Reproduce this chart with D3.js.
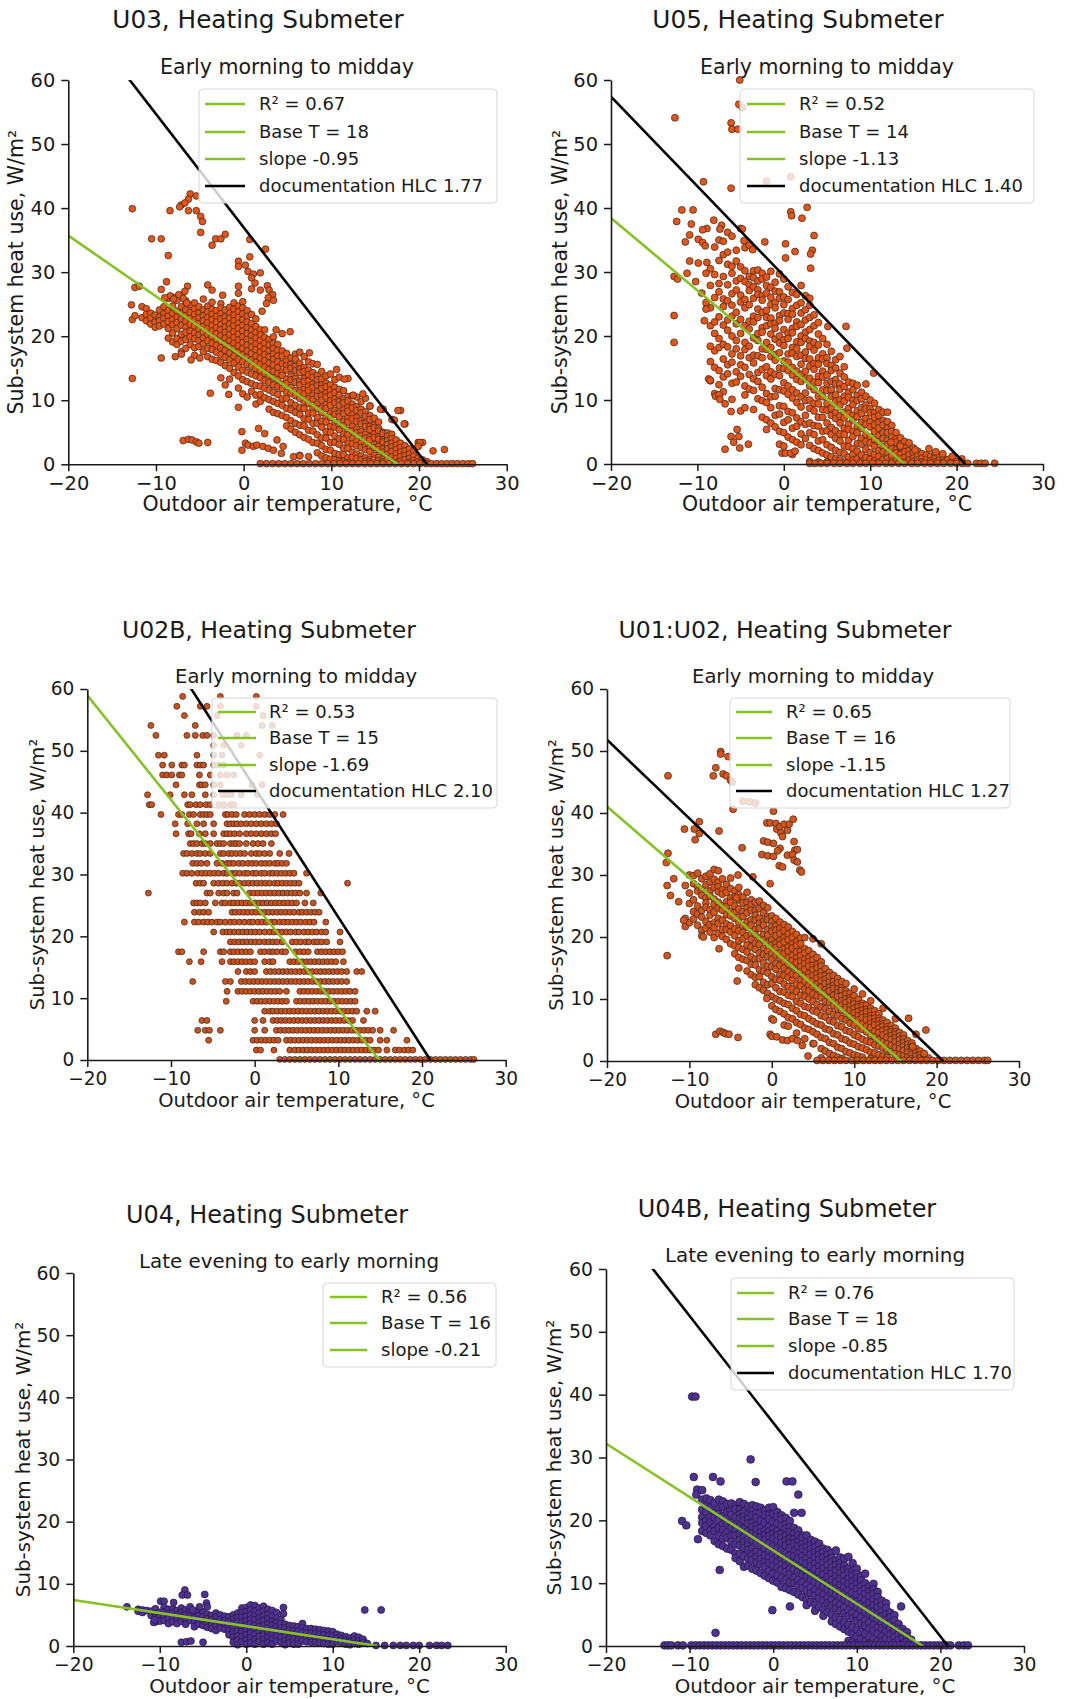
<!DOCTYPE html>
<html><head><meta charset="utf-8">
<script src="https://cdn.jsdelivr.net/npm/d3@7"></script>
<style>body{margin:0;background:#fff}svg{display:block}text{font-family:"DejaVu Sans",sans-serif;fill:#1a1a1a}</style>
</head><body><svg id="c" width="1075" height="1699"></svg>
<script>
// ---------------- DATA ----------------
const xTicks=[-20,-10,0,10,20,30];
const yTicks=[0,10,20,30,40,50,60];
const titles=['U03, Heating Submeter','U05, Heating Submeter','U02B, Heating Submeter','U01:U02, Heating Submeter','U04, Heating Submeter','U04B, Heating Submeter'];
const subtitles=['Early morning to midday','Early morning to midday','Early morning to midday','Early morning to midday','Late evening to early morning','Late evening to early morning'];
const legendLabels=[
 ['R² = 0.67','Base T = 18','slope -0.95','documentation HLC 1.77'],
 ['R² = 0.52','Base T = 14','slope -1.13','documentation HLC 1.40'],
 ['R² = 0.53','Base T = 15','slope -1.69','documentation HLC 2.10'],
 ['R² = 0.65','Base T = 16','slope -1.15','documentation HLC 1.27'],
 ['R² = 0.56','Base T = 16','slope -0.21'],
 ['R² = 0.76','Base T = 18','slope -0.85','documentation HLC 1.70']];
const fitSlope=[-0.95,-1.13,-1.69,-1.15,-0.21,-0.85];
const fitZeroT=[17.6,14.0,14.9,15.7,15.2,17.9];
const docHLC=[1.77,1.40,2.10,1.27,null,1.70];
const docZeroT=[20.9,21.0,21.0,20.8,null,20.9];
const xLabel='Outdoor air temperature, °C';
const yLabel='Sub-system heat use, W/m²';

// columns: [x, y1, y2, ...]   rows: [y, x1, x2, ...]
const u03Cols=[[-11.6,24.6,22.9],[-11.1,24.3,23.4,22.4],[-10.6,23.6,22.8,21.9],[-10.1,23.3,22.2,21.4],[-9.6,24.1,23.0,22.4,21.6],[-9.1,24.6,23.5,22.8,21.9],[-8.6,25.9,24.0,23.1,22.3,21.2,19.7],[-8.1,26.1,24.7,23.6,22.6,21.8,20.5,19.1],[-7.6,25.6,23.9,23.0,22.1,21.2,19.6,18.7],[-7.1,26.4,24.6,23.5,22.7,21.7,20.3,19.2,17.6],[-6.6,25.5,24.1,23.2,22.3,21.4,20.6,19.5,18.1],[-6.1,24.9,23.7,22.8,21.9,20.8,19.9,18.7],[-5.6,25.2,24.3,23.4,22.5,21.6,20.5,19.6,18.2,17.0],[-5.1,24.6,23.6,22.9,22.0,21.1,20.2,19.3,18.4],[-4.6,25.8,24.1,23.2,22.4,21.5,20.6,19.7,18.8,17.6],[-4.1,24.7,23.8,22.9,22.1,21.2,20.3,19.3,18.1,16.8],[-3.6,25.3,24.2,23.4,22.6,21.7,20.8,19.9,18.9,17.9,16.4],[-3.1,24.0,23.1,22.2,21.3,20.4,19.5,18.6,17.5,16.2],[-2.6,25.1,24.4,23.5,22.7,21.8,21.0,20.1,19.2,18.2,17.1,15.9,13.5],[-2.1,24.1,23.0,22.3,21.4,20.6,19.7,18.8,17.8,16.7,15.4,12.4],[-1.6,24.5,23.6,22.8,21.9,21.1,20.2,19.3,18.4,17.4,16.3,15.0,13.3],[-1.1,25.2,24.2,23.3,22.4,21.6,20.7,19.8,18.9,18.0,16.9,15.8,14.3],[-0.6,26.7,24.7,23.8,22.9,22.0,21.2,20.3,19.4,18.5,17.5,16.4,15.2,13.8,11.9],[-0.1,25.4,24.4,23.5,22.6,21.7,20.8,19.9,19.0,18.1,17.1,16.0,14.7,13.2,11.0],[0.4,24.0,23.1,22.2,21.3,20.4,19.5,18.6,17.7,16.7,15.6,14.4,12.9,10.5],[0.9,23.4,22.0,21.0,20.1,19.2,18.3,17.3,16.3,15.3,14.1,12.6,11.4],[1.4,22.7,21.5,20.6,19.7,18.8,17.9,16.9,15.9,14.9,13.8,12.3,10.8,9.4],[1.9,21.0,20.2,19.3,18.4,17.5,16.6,15.6,14.6,13.5,12.2,10.9,9.8],[2.4,21.0,19.8,18.9,18.0,17.1,16.2,15.2,14.2,13.1,11.9,10.4],[2.9,19.5,18.6,17.7,16.8,15.8,14.8,13.8,12.8,11.6,10.1,8.6],[3.4,19.9,18.9,18.1,17.2,16.4,15.5,14.5,13.5,12.4,11.2,9.8,8.1],[3.9,18.7,17.8,16.9,16.0,15.1,14.2,13.2,12.1,10.9,9.5,7.9],[4.4,17.7,16.9,15.7,14.4,13.9,12.5,11.8,10.2,9.2,7.6],[4.9,17.3,16.1,15.4,14.7,13.3,12.6,11.2,10.3,8.7,7.3,6.0],[5.4,16.6,15.6,15.0,13.8,13.2,12.0,11.1,9.6,8.5,6.8,5.5],[5.9,17.2,16.4,15.3,14.6,13.4,12.8,11.5,10.7,9.2,8.1,6.4,5.0],[6.4,17.5,15.8,14.9,14.3,13.0,12.4,11.2,10.3,8.8,7.8,6.1,4.6,1.4],[6.9,16.8,15.1,14.5,13.4,12.9,11.7,11.0,9.6,8.7,7.1,6.0,4.2],[7.4,16.0,14.7,14.0,13.0,12.2,11.5,10.3,9.5,8.0,7.0,5.3,3.9,1.2],[7.9,15.7,14.3,13.6,12.5,12.0,10.8,10.1,8.8,8.0,6.4,5.2,3.4],[8.4,15.6,13.9,13.2,12.3,11.4,10.6,9.4,8.7,7.3,6.4,4.6,3.3,1.8],[8.9,14.5,13.3,12.4,11.8,10.7,10.0,8.8,8.1,6.7,5.8,4.1,2.9,1.3],[9.4,13.8,12.7,12.1,11.1,10.5,9.3,8.7,7.4,6.6,5.1,4.1,2.3,1.0],[9.9,14.1,12.4,11.6,10.8,9.9,9.2,8.0,7.3,5.9,5.0,3.4,2.2,0.8],[10.4,13.2,12.0,11.2,10.2,9.6,8.4,7.8,6.5,5.8,4.4,3.4,1.7,0.7],[10.9,13.6,11.7,10.8,9.8,9.2,8.0,7.4,6.1,5.4,4.0,3.1,1.5,0.5],[11.4,11.5,10.2,9.6,8.5,7.9,6.7,6.0,4.7,3.9,2.5,1.5,0.4],[11.9,13.4,10.6,9.9,8.9,8.3,7.2,6.6,5.3,4.6,3.3,2.5,1.0,0.3],[12.4,10.7,9.4,8.8,7.7,7.1,5.9,5.2,4.0,3.2,1.9,1.1],[12.9,10.5,9.0,8.4,7.3,6.7,5.5,4.9,3.6,2.9,1.6,0.9],[13.4,9.8,8.6,8.0,6.8,6.3,5.1,4.5,3.3,2.6,1.3,0.7],[13.9,10.3,8.2,7.5,6.4,5.9,4.7,4.1,2.9,2.3,1.0,0.5],[14.4,9.1,7.6,7.0,5.9,5.4,4.3,3.8,2.6,2.0,0.8,0.4],[14.9,7.2,6.1,5.7,4.7,4.2,3.1,2.6,1.4,0.8],[15.4,6.6,5.6,5.2,4.3,3.9,2.8,2.3,1.1,0.6],[15.9,8.6,5.0,4.8,3.8,3.5,2.4,1.9,0.8,0.4],[16.4,4.9,4.4,3.7,3.1,2.4,1.6,0.8],[16.9,7.0,4.7,4.0,3.3,2.7,2.0,1.2,0.5],[17.4,3.8,3.0,2.3,1.6,0.9,0.3],[17.9,8.4,3.3,2.6,1.9,1.2,0.5],[18.4,6.3,2.9,2.1,1.4,0.7],[18.9,2.4,1.6,0.9,0.3],[19.4,2.1,1.3,0.6],[19.9,3.4,2.8,1.0,0.4],[20.4,3.4,0.7],[20.9,0.4]];
const u03Extra=[[-12.7,39.9],[-12.7,13.4],[-12.8,24.9],[-12.7,22.6],[-12.4,23.2],[-12.4,27.6],[-11.9,27.8],[-6.1,42.2],[-6.3,41.4],[-7.1,40.5],[-6.7,40.8],[-7.3,40.2],[-6.3,39.6],[-5.4,41.9],[-5.4,39.6],[-4.9,38.7],[-4.7,37.9],[-4.9,36.2],[-8.4,39.6],[-10.5,35.2],[-9.4,35.2],[-3.6,34.2],[-3.2,35.2],[-2.6,35.2],[-2.1,35.9],[-8.6,32.6],[0.7,35.1],[0.7,32.4],[2.5,33.6],[-0.6,31.7],[-0.6,30.9],[0.2,31.1],[0.5,30.1],[1.1,29.7],[1.9,29.9],[0.9,29.1],[1.3,28.3],[2.7,27.9],[2.9,27.2],[3.3,26.5],[2.8,26.0],[3.4,25.6],[2.6,25.1],[2.1,23.9],[-0.6,27.8],[0.9,27.4],[1.9,27.2],[-4.1,28.0],[-3.6,27.2],[-8.8,28.5],[-9.4,27.3],[-6.4,27.8],[-6.7,27.0],[-7.4,26.5],[-6.9,25.9],[-6.5,25.2],[-8.4,26.3],[-6.9,3.7],[-6.3,3.9],[-5.9,3.8],[-5.4,3.5],[-5.1,3.3],[-4.1,3.4],[-3.8,11.1],[-1.7,10.9],[-0.6,8.9],[-9.4,16.6],[-7.8,16.8],[-7.1,17.2],[-6.0,16.3],[-5.0,16.6],[-0.2,5.1],[0.2,3.3],[0.5,3.0],[1.1,2.8],[1.5,3.0],[-0.2,2.2],[2.2,2.8],[2.8,2.5],[3.4,2.2],[3.8,3.8],[4.5,2.8],[1.7,5.6],[2.4,4.8],[4.3,1.7],[5.7,1.2],[6.4,1.3],[17.6,8.4],[18.3,6.3],[21.6,2.1],[22.9,2.3],[20.1,3.4],[19.9,2.8],[15.6,8.6],[14.4,9.1],[17.2,6.9],[-9.0,26.0],[-8.0,25.8],[-2.4,26.4],[4.4,20.4],[5.3,20.7],[3.7,21.0],[7.5,17.4],[10.6,14.8],[11.5,13.3],[13.6,11.0],[12.5,10.8]];
const u03Floor=[0.1,1.9,2.6,3.3,4.0,4.7,5.4,6.1,6.8,7.5,8.2,8.9,9.6,10.3,11.0,11.7,12.4,13.1,13.8,14.5,15.2,15.9,16.6,17.3,18.0,18.7,19.4,20.1,20.8,21.4,22.0,22.6,23.2,23.8,24.4,25.0,25.6,26.1];

const u05Cols=[[-8.5,30.5,27.9,24.4,21.6,16.0,13.0],[-8.0,33.9,29.6,26.0,22.2,20.4,17.7,15.1,11.0],[-7.5,35.0,31.8,28.2,26.9,23.0,19.6,18.2,14.6,12.4],[-7.0,34.8,32.7,29.3,25.8,24.6,21.7,18.7,16.4,13.6,11.3],[-6.5,36.2,33.1,31.2,28.0,25.5,22.5,20.9,18.3,15.5,14.1],[-6.0,35.6,30.9,29.8,26.6,24.8,23.1,20.0,17.2,15.9,12.6,10.1],[-5.5,33.4,31.7,28.6,27.2,23.7,21.9,19.3,18.0,14.4,12.8],[-5.0,36.8,30.8,29.0,26.4,25.3,22.6,20.4,16.9,15.5,13.7,8.3],[-4.5,33.8,30.2,28.5,25.7,24.4,21.6,19.0,17.9,15.1,12.2,10.8,8.8],[-4.0,34.2,29.3,28.0,27.1,24.9,22.3,21.1,18.4,16.6,14.0,11.7],[-3.5,30.2,29.1,27.7,25.9,23.1,22.2,19.7,17.0,15.8,13.3,11.5,8.5],[-3.0,30.3,28.6,27.2,26.5,24.2,22.9,20.4,19.3,16.9,14.3,12.9,10.2],[-2.5,29.8,28.9,26.3,25.6,23.7,21.3,20.6,18.0,16.6,14.8,12.0,9.9,7.3],[-2.0,29.2,27.9,26.7,24.0,22.9,21.6,19.0,17.9,15.2,13.8,11.0,9.6,6.9,5.4],[-1.5,30.1,27.6,26.0,24.9,22.8,21.9,20.3,18.2,16.8,14.4,13.3,10.5,8.8,6.4],[-1.0,28.4,27.0,25.2,24.4,22.0,21.2,19.5,17.1,16.2,14.0,11.8,10.6,7.6,5.8],[-0.5,29.7,26.9,25.9,23.2,22.4,20.0,18.9,17.4,15.0,13.8,11.6,9.1,7.8,5.1,3.1],[0.0,28.9,26.1,24.9,23.6,21.0,19.4,18.5,16.1,14.9,12.7,11.4,9.0,6.5,4.9,2.8],[0.5,27.7,25.7,23.5,22.6,20.4,19.6,17.2,15.9,14.6,12.2,10.9,8.2,6.9,4.2],[1.0,26.8,24.3,23.4,21.2,20.5,18.2,17.3,15.1,13.9,11.6,10.3,8.0,5.6,3.8,1.5],[1.5,26.5,24.8,22.2,21.5,19.1,18.0,16.8,14.5,13.2,11.1,9.6,7.2,5.9,3.4],[2.0,27.9,25.2,23.6,21.8,20.0,19.0,17.0,15.6,14.0,12.9,10.5,8.9,6.6,4.7,3.0],[2.5,26.3,24.1,22.5,20.6,19.6,17.5,16.5,14.5,13.3,11.1,9.9,7.6,6.2,4.0],[3.0,25.9,24.8,22.9,21.0,19.2,18.4,16.4,15.3,13.4,12.2,10.0,8.7,6.4,4.9,2.9,0.4],[3.5,23.3,21.6,19.0,17.8,15.7,14.8,12.8,11.6,9.5,8.3,6.0,4.6,2.4],[4.0,22.1,20.3,18.6,16.6,15.6,13.7,12.7,10.6,9.4,7.3,5.9,3.6,2.1,0.3],[4.5,19.6,17.2,16.4,14.5,13.6,11.6,10.5,8.5,7.3,5.1,3.8,1.7],[5.0,18.7,16.6,15.7,13.9,12.6,11.5,9.5,8.4,6.4,5.2,3.0,1.4,0.3],[5.5,17.6,15.4,14.6,12.9,11.6,10.6,8.7,7.6,5.7,4.6,2.6,1.1],[6.0,16.3,15.0,13.2,12.5,10.8,9.8,8.0,7.1,5.2,4.0,2.1,0.8],[6.5,16.8,14.2,12.5,11.7,10.0,9.2,7.5,6.4,4.7,3.6,1.8,0.6],[7.0,15.2,13.6,12.1,10.6,9.8,8.1,7.2,5.6,4.6,2.8,1.6,0.3],[7.5,12.8,11.2,10.4,8.7,7.9,6.2,5.4,3.7,2.7,1.1],[8.0,12.6,11.6,10.0,9.3,7.6,6.9,5.1,4.3,2.4,1.5,0.6],[8.5,12.3,10.7,9.9,8.3,7.4,5.9,4.9,3.2,2.0,0.8],[9.0,11.2,10.2,8.8,7.9,6.5,5.6,4.0,3.1,1.4,0.4],[9.5,12.5,10.6,9.2,8.6,7.1,6.2,4.6,3.5,2.3,1.0],[10.0,10.0,8.6,8.0,6.6,5.8,4.2,3.3,1.8,0.7],[10.5,9.5,8.0,7.3,6.1,5.1,3.8,2.8,1.5,0.5],[11.0,8.5,7.6,6.5,5.6,4.4,3.5,2.1,1.2,0.3],[11.5,8.1,6.8,6.1,4.9,4.0,2.7,1.9,0.7],[12.0,6.6,5.6,4.9,3.7,3.0,1.6,0.9],[12.5,6.0,5.1,4.2,3.3,2.4,1.3,0.4],[13.0,4.9,3.9,3.4,2.2,1.7,0.5],[13.5,4.1,3.1,2.6,1.5,0.8],[14.0,3.5,2.5,1.9,1.0,0.3],[14.5,3.3,2.1,1.4,0.6],[15.0,2.5,1.8,0.9,0.4],[15.5,2.0,1.3,0.6],[16.0,1.6,0.9,0.3],[16.5,1.4,0.7],[17.0,1.2,0.5],[17.5,1.6,0.9,0.3],[18.0,1.3,0.6],[18.5,0.9,0.3],[19.0,0.7],[19.5,0.5],[20.0,0.4],[20.5,0.2]];
const u05Extra=[[-12.6,54.1],[-5.1,60],[-5.2,56.2],[-4.8,55.7],[-6.1,53.3],[-6.0,52.3],[-5.3,52.3],[-9.3,44.1],[-6.1,43.1],[-2.0,44.2],[0.8,44.9],[2.7,40.1],[0.8,39.4],[0.9,38.8],[2.1,38.4],[-11.8,39.7],[-10.5,39.7],[-12.4,37.9],[-10.7,37.5],[-8.1,38.1],[-7.2,37.3],[-7.4,36.7],[-8.9,36.8],[-9.4,36.6],[-10.9,35.8],[-11.4,34.7],[-9.9,35.1],[-9.4,34.6],[-9.1,34.1],[-4.8,36.7],[-4.6,34.9],[-3.6,33.5],[-2.2,34.7],[0.2,34.4],[1.3,33.2],[3.5,35.7],[3.3,33.4],[3.1,32.8],[3.1,30.6],[-12.7,29.3],[-12.3,28.9],[-12.7,23.2],[-12.7,19.0],[-11.2,29.8],[-10.9,31.7],[-9.9,31.4],[-8.9,31.5],[-10.2,28.5],[-9.5,26.7],[-9.2,22.4],[-8.5,18.4],[-8.7,13.3],[-8.5,13.1],[-7.9,10.6],[-7.5,10.8],[-7.4,10.1],[-6.8,9.4],[-6.1,8.2],[-6.8,2.3],[-6.1,4.3],[-5.4,5.4],[-5.2,4.3],[-5.8,3.4],[-5.1,2.5],[-4.1,3.1],[-0.2,1.7],[0.2,1.7],[0.8,1.7],[1.3,2.0],[5.1,21.5],[7.2,21.5],[7.3,18.1],[10.4,14.2],[12.0,8.1],[-9.0,29.8],[-9.0,25.2],[-9.0,24.2],[0.2,32.2],[12.4,3.4],[13.5,2.8],[15.2,2.2],[16.8,2.4],[17.6,1.9],[18.4,1.6],[19.5,1.2],[20.6,0.8]];
const u05Floor=[0.1,3.0,3.6,4.3,5.0,5.8,6.5,7.3,8.0,8.8,9.5,10.3,11.0,11.8,12.5,13.3,14.0,14.8,15.5,16.3,17.0,17.8,18.5,19.3,20.0,20.7,21.3,22.3,22.8,23.3,24.4];

const u02bRows=[[58.8,-8.6,-4.1,0.2],[57.2,-9.3,-6.5,-5.7,-4.1,0.2],[55.7,-8.4,-4.5,1.0],[54.1,-12.4,-7.1,0.9,2.1],[52.5,-11.8,-8.1,-7.1,-6.2,-5.7,-4.9,-2.1,-1.0],[50.9,-4.9,-3.7,-1.6],[49.3,-11.5,-10.8,-6.9,-4.9,-3.9,0.6],[47.7,-11.0,-9.9,-8.7,-8.4,-6.9,-6.5,-6.1,-4.9,-4.3,-3.7],[46.1,-11.0,-10.5,-9.9,-9.0,-8.7,-6.6,-5.3,-4.1,-3.3,-2.5],[44.5,-9.4,-6.6,-6.3,-5.9,-4.9,-4.1,-0.3,0.9],[42.9,-12.8,-10.1,-8.4,-7.5,-5.9,-4.9,-3.8,-3.3,-2.8,-1.6,0.3],[41.3,-12.6,-12.3,-8.0,-7.7,-7.0,-6.5,-5.8,-5.3,-4.3,-3.7,-2.9,-2.5],[39.7,-11.2,-9.1,-8.7,-7.8,-7.3,-6.5,-6.1,-5.7,-5.3,-3.5,-3.2,-2.7,-2.2,-1.2,-0.6,0.0,0.6,1.2,1.8,2.4,3.4],[38.2,-9.5,-8.0,-6.9,-6.1,-4.9,-3.3,-2.9,-2.5,-2.1,-1.6,-1.0,-0.4,0.2,0.8,1.4,2.0,2.6],[36.6,-9.4,-7.9,-7.6,-6.6,-5.9,-4.9,-3.7,-3.3,-2.9,-2.4,-1.8,-1.0,-0.4,0.2,0.8,1.4,2.0,2.5],[35.0,-7.7,-7.3,-6.9,-6.3,-5.9,-5.3,-4.5,-4.1,-3.7,-2.9,-2.5,-2.2,-1.8,-1.0,-0.2,0.4,1.0,2.0],[33.4,-8.5,-8.1,-7.5,-6.9,-6.5,-5.9,-5.3,-4.1,-3.7,-3.1,-2.7,-2.2,-1.7,-1.2,-0.4,0.2,0.6,1.2,1.8,3.0,4.1],[31.8,-7.4,-6.9,-6.4,-5.7,-4.5,-3.9,-3.3,-2.9,-2.5,-1.9,-1.4,-0.8,-0.3,0.2,0.8,1.3,1.8,2.4,2.8,3.3,3.8],[30.2,-8.6,-8.1,-7.5,-6.8,-6.3,-5.8,-5.3,-4.8,-4.3,-3.7,-3.3,-2.7,-2.3,-1.8,-1.2,-0.8,-0.2,0.2,0.8,1.2,1.8,2.2,2.7,3.2,3.7,4.2,4.7,6.2],[28.6,-7.0,-6.5,-6.1,-4.9,-4.3,-3.8,-3.3,-2.7,-2.2,-1.8,-1.2,-0.7,-0.2,0.3,0.8,1.3,1.8,2.4,2.8,3.3,3.8,4.3,4.8,5.3,11.1],[27.0,-12.7,-5.7,-5.3,-4.3,-3.7,-3.3,-2.5,-2.1,-0.6,-0.1,0.4,0.9,1.4,1.9,2.4,2.9,3.4,3.9,4.4,4.9,5.4,6.2,7.9],[25.4,-7.3,-6.9,-6.5,-5.9,-4.7,-3.9,-3.5,-2.9,-2.5,-2.0,-1.5,-1.0,-0.5,0.0,0.5,1.0,1.5,2.0,2.5,3.0,3.5,4.0,4.5,5.0,6.0,7.0],[23.9,-7.2,-6.6,-6.1,-5.5,-2.7,-2.3,-1.8,-1.3,-0.8,-0.3,0.2,0.7,1.2,1.7,2.2,2.7,3.2,3.7,4.2,4.7,5.3,5.7,6.2,6.7,7.2,7.7],[22.3,-8.4,-7.2,-6.7,-6.1,-5.6,-5.1,-4.5,-4.1,-3.5,-2.9,-2.4,-1.8,-1.2,-0.6,-0.2,0.4,0.9,1.4,2.0,2.4,3.0,3.5,4.0,4.5,5.0,5.5,6.1,6.6,7.1,8.5],[20.7,-4.9,-3.8,-3.3,-2.9,-2.4,-1.9,-1.4,-0.9,-0.4,0.1,0.6,1.2,1.8,2.3,2.8,3.3,3.8,4.3,4.9,5.3,5.9,6.4,6.9,7.4,8.0,8.5,10.2],[19.1,-2.9,-2.4,-1.9,-1.4,-0.9,-0.4,0.1,0.6,1.2,1.7,2.2,2.7,3.3,4.5,5.0,5.5,6.1,6.5,7.1,7.5,8.0,8.6,10.2],[17.5,-9.1,-8.7,-6.1,-4.1,-3.7,-2.9,-2.5,-2.0,-1.5,-1.0,-0.5,0.7,1.2,1.8,2.2,2.7,3.3,3.7,4.9,5.4,5.9,6.4,7.5,8.0,8.5,9.0,9.5,10.0,10.5],[15.9,-7.8,-6.4,-3.9,-2.9,-2.5,-2.0,-1.5,-1.0,-0.5,0.0,1.2,1.8,2.2,4.2,4.7,5.2,5.7,6.2,6.7,7.2,7.7,8.2,8.7,9.2,9.7,10.6],[14.3,-2.0,-1.0,-0.5,0.0,1.4,1.9,2.4,2.9,3.4,3.9,4.4,4.9,5.4,5.9,6.4,6.9,7.4,7.9,8.4,8.9,9.4,9.9,10.4,11.0,12.2,12.8],[12.7,-7.4,-3.5,-2.9,-1.6,-1.1,-0.6,-0.1,0.4,0.9,1.4,1.9,2.4,2.9,3.4,3.9,4.4,4.9,5.4,5.9,6.4,6.9,7.4,7.9,8.4,8.9,9.4,9.9,10.4,11.0],[11.1,-3.3,-2.0,-1.5,-1.0,-0.5,0.0,0.5,1.0,1.5,2.0,2.5,3.0,3.8,5.4,5.9,6.4,6.9,7.4,7.9,8.4,8.9,9.4,9.9,10.4,10.9,11.4,12.0],[9.5,-3.4,-0.2,0.3,0.8,1.3,1.8,2.3,2.8,3.3,3.8,5.0,5.5,6.0,6.5,7.0,7.5,8.0,8.5,9.0,9.5,10.0,10.5,11.0,11.5,12.0],[7.9,1.2,1.8,2.2,2.7,3.2,3.7,4.2,4.7,5.2,5.7,6.2,6.7,7.2,7.7,8.2,8.7,9.2,9.7,10.2,10.7,11.2,11.7,12.2,13.4,14.4],[6.4,-6.3,-5.7,0.0,1.0,2.2,2.7,3.2,3.7,4.2,4.7,5.2,5.7,6.2,6.7,7.2,7.7,8.2,8.7,9.2,9.7,10.2,10.7,11.2,11.7,13.0],[4.8,-6.8,-5.9,-5.4,-4.1,0.0,1.2,2.6,3.1,3.6,4.1,4.6,5.1,5.6,6.1,6.6,7.1,7.6,8.1,8.6,9.1,9.6,10.1,10.6,11.1,11.6,12.1,12.6,13.1,13.6,14.1,15.0,16.6],[3.2,-5.5,-0.2,0.3,0.8,1.3,1.8,2.3,2.8,3.8,4.3,4.8,5.3,5.8,6.3,6.8,7.3,7.8,8.3,8.8,9.3,9.8,10.3,10.8,11.3,11.8,12.3,12.8,13.3,13.8,15.0,15.8,18.2],[1.6,0.2,0.7,2.3,4.2,4.8,5.3,5.8,6.3,6.8,7.3,7.8,8.3,8.8,9.3,9.8,10.3,10.8,11.3,11.8,12.3,12.8,13.3,13.8,14.3,14.8,15.8,16.8,17.3,17.9,18.4,18.9],[0.1,3.0,3.6,4.2,4.8,5.4,6.0,6.6,7.2,7.8,8.4,9.0,9.6,10.2,10.8,11.4,12.0,12.6,13.2,13.8,14.4,15.0,15.6,16.2,16.8,17.4,18.0,18.6,19.2,19.8,20.4,21.0,21.6,22.2,22.8,23.4,24.0,24.6,25.2,25.8,26.2]];

const u0102Cols=[[-10.5,28.3,23.0,21.7],[-10.0,30.0,27.1,25.4,22.3],[-9.5,29.9,28.6,26.0,24.1,22.9],[-9.0,30.3,28.1,27.4,25.0,23.7,21.9],[-8.5,29.4,27.6,26.7,24.3,23.2,21.1,20.2],[-8.0,29.8,28.4,26.3,25.5,24.8,22.5,21.4],[-7.5,30.2,28.9,27.4,26.6,24.4,23.5,22.0,20.8],[-7.0,30.9,29.3,28.0,26.1,25.3,24.0,22.3,21.5,19.9],[-6.5,30.7,28.8,28.1,27.3,25.6,24.7,23.0,22.2,20.6],[-6.0,29.4,27.6,26.9,25.0,24.3,22.7,21.2,20.1],[-5.5,28.5,27.2,25.7,24.9,23.6,22.1,21.2,19.6],[-5.0,29.5,27.8,26.3,25.6,24.1,23.4,21.8,20.8,18.9],[-4.5,27.4,26.5,25.0,23.9,23.0,21.3,20.2,18.6,17.3],[-4.0,28.0,26.8,26.0,24.5,23.2,22.3,21.0,19.4,18.3,16.7,15.0],[-3.5,26.4,25.5,24.1,23.3,21.8,20.7,19.7,18.0,16.4],[-3.0,27.2,25.6,24.7,23.9,22.4,21.6,20.2,18.7,17.6,16.2,14.5],[-2.5,26.0,25.2,24.3,22.8,21.9,20.5,19.6,18.4,16.8,15.6,13.9],[-2.0,25.6,24.3,23.5,22.7,21.2,20.4,19.0,18.0,16.4,15.5,13.5,12.3],[-1.5,25.8,24.6,23.0,22.2,21.4,19.8,18.8,17.4,16.5,14.7,13.6,11.8],[-1.0,25.1,23.9,22.5,21.9,20.4,19.5,18.1,17.2,15.8,14.5,12.7,11.4],[-0.5,24.7,23.3,22.8,21.2,20.3,19.1,17.7,16.8,15.3,14.2,12.3,10.9],[0.0,23.4,22.5,21.7,20.9,19.5,18.7,17.3,16.4,15.2,13.6,12.5,10.4,8.9],[0.5,23.0,21.8,21.1,20.2,19.0,18.3,17.0,15.7,14.8,13.2,11.8,10.0,8.3],[1.0,22.4,21.4,20.6,19.5,18.8,17.4,16.6,15.4,14.0,13.0,11.2,9.7,8.0],[1.5,22.0,21.0,19.9,19.2,18.1,17.3,16.0,15.0,13.8,12.4,11.1,9.3,7.6,5.8],[2.0,21.6,20.5,19.6,18.4,17.7,16.7,15.6,14.4,13.5,12.0,10.6,9.1,7.0,5.6],[2.5,20.9,19.9,18.9,18.2,17.0,16.2,15.3,14.0,13.0,11.6,10.4,8.5,6.8],[3.0,20.4,19.2,18.6,17.6,16.6,15.9,14.6,13.8,12.4,11.2,9.6,8.1,6.2,4.5],[3.5,19.8,18.9,17.7,17.0,16.1,15.2,14.4,13.1,12.1,10.6,9.3,7.5,5.9],[4.0,19.9,18.1,17.4,16.4,15.7,14.8,13.7,12.9,11.6,10.4,8.8,7.3,5.3,3.6],[4.5,17.8,16.7,16.0,15.3,14.1,13.5,12.2,11.3,10.0,8.6,6.8,5.1],[5.0,19.7,17.2,16.3,15.4,14.7,13.8,12.9,12.0,10.8,9.6,8.1,6.4,4.7,2.8],[5.5,16.7,15.6,15.0,14.1,13.4,12.4,11.7,10.5,9.1,7.9,6.0,4.3],[6.0,18.9,16.0,15.3,14.4,13.7,12.9,11.9,11.0,10.2,8.7,7.3,5.8,3.8,2.0,0.5],[6.5,14.9,13.8,13.2,12.5,11.5,10.9,9.6,8.4,7.1,5.2,3.6,1.6],[7.0,14.3,13.6,12.7,11.9,11.3,10.2,9.4,8.0,6.5,5.0,3.0,1.2],[7.5,13.8,12.8,12.2,11.7,10.6,9.8,8.9,7.5,6.3,4.4,2.8,0.9],[8.0,13.3,12.6,11.6,11.0,10.4,9.3,8.4,7.3,5.7,4.2,2.2,0.6],[8.5,12.8,11.8,11.4,10.5,9.7,9.0,8.2,6.8,5.5,3.6,2.0,0.4],[9.0,12.5,11.3,10.8,10.0,9.4,8.6,7.6,6.6,4.9,3.4,1.5],[9.5,10.9,10.2,9.8,8.9,8.2,7.2,6.1,4.7,2.9,1.3],[10.0,11.6,10.5,9.6,9.2,8.5,7.8,6.8,5.8,4.2,2.7,1.0],[10.5,9.9,9.1,8.7,8.0,7.3,6.6,5.2,3.9,2.3,0.8],[11.0,10.8,9.3,8.9,8.2,7.6,7.0,6.0,5.1,3.5,2.1,0.6],[11.5,9.0,8.3,7.9,7.1,6.6,5.6,4.7,3.2,1.8],[12.0,9.7,8.5,8.0,7.3,6.8,6.1,5.4,4.1,3.0,1.4,0.4],[12.5,8.1,7.4,6.9,6.3,5.8,4.8,3.9,2.6,1.3],[13.0,7.6,6.9,6.5,5.9,5.3,4.6,3.4,2.4,1.0],[13.5,8.5,6.6,6.0,5.6,4.9,4.2,3.1,2.1,0.8],[14.0,6.2,5.5,5.1,4.5,3.8,2.8,1.8,0.6],[14.5,5.7,5.1,4.7,4.1,3.5,2.5,1.5],[15.0,6.8,5.3,4.7,4.3,3.7,3.1,2.2,1.2,0.4],[15.5,4.6,4.0,3.4,2.7,2.0,1.0],[16.0,4.2,3.6,3.0,2.4,1.7,0.8],[16.5,3.3,2.7,2.1,1.4,0.6],[17.0,2.9,2.3,1.8,1.1,0.4],[17.5,4.3,2.0,1.4,0.8],[18.0,1.6,1.0,0.5],[18.5,0.8,0.3],[19.0,0.5]];
const u0102Extra=[[-12.6,46.0],[-12.6,33.5],[-12.8,32.0],[-12.7,28.3],[-12.3,26.7],[-11.9,29.4],[-11.3,25.7],[-12.7,17.0],[-10.6,37.4],[-9.4,37.4],[-9.3,35.7],[-8.8,38.6],[-8.8,36.7],[-6.4,37.1],[-7.1,46.0],[-6.8,47.3],[-6.2,49.9],[-6.2,49.5],[-5.9,46.3],[-5.5,46.0],[-5.3,49.1],[-5.0,45.3],[-4.8,45.0],[-4.7,40.6],[-3.6,34.4],[-4.1,30.0],[-4.3,26.3],[-2.3,29.7],[-0.2,28.6],[-0.6,38.4],[-0.2,38.4],[0.5,38.3],[0.6,37.4],[1.0,37.8],[1.5,38.2],[1.9,37.2],[2.1,38.2],[2.6,39.0],[1.1,36.8],[1.3,36.2],[1.0,34.3],[0.7,33.9],[-1.0,35.5],[-0.5,35.3],[0.2,35.1],[-1.2,33.3],[-0.5,33.1],[0.2,33.0],[0.9,31.5],[1.3,31.3],[1.9,33.2],[2.7,35.4],[2.8,34.0],[3.1,34.1],[2.5,33.3],[2.7,32.4],[3.1,32.1],[3.4,30.8],[3.6,30.5],[0.2,40.3],[-3.5,41.9],[-2.7,41.8],[-2.0,41.6],[-6.4,18.1],[-4.2,12.9],[-0.6,10.1],[0.0,6.8],[0.2,6.6],[-6.8,4.3],[-6.3,4.8],[-5.9,4.6],[-5.6,4.4],[-5.2,4.3],[-4.1,3.8],[-0.2,4.3],[0.0,4.0],[0.6,3.9],[1.3,3.4],[1.9,3.3],[2.5,3.6],[3.1,3.3],[3.7,2.5],[4.4,0.8],[5.1,2.8],[18.7,5.0],[16.6,6.9],[17.1,2.3],[18.5,1.2],[-8.3,20.0],[-10.7,22.7]];
const u0102Floor=[0.1,5.5,6.2,6.9,7.6,8.3,9.0,9.7,10.4,11.1,11.8,12.5,13.2,13.9,14.6,15.3,16.0,16.7,17.4,18.1,18.8,19.5,20.2,20.9,21.6,22.3,23.0,23.7,24.4,25.1,25.8,26.2];

const u04Cols=[[-12.5,5.9,5.6],[-12.0,5.8,5.4],[-11.5,5.7],[-11.0,5.6,4.9],[-10.5,6.0,5.2,4.6,3.9],[-10.0,5.4,4.7,4.0],[-9.5,6.2,5.5,4.8,4.1],[-9.0,5.9,5.2,4.4,3.6],[-8.5,6.0,5.3,4.6,3.9],[-8.0,5.7,5.0,4.3,3.6],[-7.5,6.1,5.4,4.7,4.0],[-7.0,5.8,5.0,4.3,3.5],[-6.5,6.3,5.5,4.8,4.1],[-6.0,5.2,4.5,3.8,3.1],[-5.5,5.8,4.9,4.2,3.5],[-5.0,5.5,4.7,4.0,3.3],[-4.5,5.1,4.4,3.7,3.0],[-4.0,4.9,4.2,3.5,2.8],[-3.5,5.3,4.6,3.9,3.2,2.5],[-3.0,5.0,4.3,3.6,2.9],[-2.5,4.8,4.1,3.4,2.7],[-2.0,4.7,3.9,3.2,2.5,1.8],[-1.5,5.0,4.3,3.6,2.9,2.2,1.4,0.6],[-1.0,5.3,4.6,3.9,3.1,2.4,1.6,0.9,0.2],[-0.5,6.1,5.4,4.6,3.8,3.0,2.3,1.5,0.7],[0.0,6.2,5.5,4.8,4.0,3.3,2.6,1.8,1.0,0.3],[0.5,6.6,5.8,5.0,4.3,3.6,2.8,2.1,1.3,0.5],[1.0,6.5,5.6,4.9,4.2,3.4,2.7,1.9,1.1,0.3],[1.5,6.1,5.3,4.5,3.8,3.1,2.3,1.5,0.7],[2.0,6.4,5.6,4.8,4.1,3.3,2.6,1.8,1.0,0.3],[2.5,5.9,5.1,4.4,3.6,2.9,2.1,1.4,0.6],[3.0,5.7,4.8,4.0,3.3,2.6,1.9,1.1,0.3],[3.5,5.4,4.5,3.8,3.1,2.4,1.6,0.8],[4.0,4.3,3.6,2.9,2.2,1.4,0.6],[4.5,3.5,2.9,2.2,1.5,0.8,0.2],[5.0,3.3,2.6,1.9,1.2,0.5],[5.5,3.2,2.5,1.8,1.1,0.3],[6.0,3.1,2.4,1.7,1.0,0.3],[6.5,3.6,2.9,2.2,1.5,0.8],[7.0,2.8,2.1,1.4,0.7],[7.5,2.8,2.1,1.4,0.6],[8.0,2.7,2.0,1.3,0.6],[8.5,2.6,1.9,1.2,0.5],[9.0,2.5,1.8,1.1,0.4],[9.5,2.4,1.7,1.0,0.3],[10.0,2.3,1.6,0.9,0.3],[10.5,1.9,1.3,0.7],[11.0,1.7,1.1,0.5],[11.5,1.5,0.9,0.3],[12.0,1.3,0.7,0.2],[12.5,1.6,1.0,0.4],[13.0,1.4,0.8,0.3],[13.5,1.1,0.5],[14.0,0.4]];
const u04Extra=[[-13.8,6.3],[-7.1,9.0],[-7.4,8.2],[-6.8,8.2],[-4.8,8.3],[-4.6,6.9],[-4.5,6.3],[4.3,6.2],[4.3,5.2],[13.7,5.8],[15.6,5.8],[-7.5,0.6],[-6.9,0.7],[-6.4,0.8],[-5.0,0.6],[-9.9,7.2],[-9.5,7.2],[-10.7,3.8],[-10.6,4.2],[-8.4,7.0],[-5.4,6.3],[-6.2,5.8]];
const u04Floor=[0.1,15.0,16.0,17.0,17.8,18.5,19.3,20.0,21.2,22.0,22.6,23.3];

const u04bCols=[[-8.5,23.3,21.7,20.5,19.6,18.3],[-8.0,23.5,22.2,21.3,19.9,19.1,18.0],[-7.5,23.2,22.0,20.6,19.7,18.4,17.6],[-7.0,22.7,21.2,20.4,19.0,18.3,16.7],[-6.5,23.3,21.9,21.0,20.1,18.8,17.5,16.2],[-6.0,23.0,22.1,20.7,19.4,18.5,17.1,15.9],[-5.5,22.6,21.3,20.3,19.5,18.1,17.2,15.5],[-5.0,22.7,21.5,20.9,19.6,18.8,17.5,16.6,15.3],[-4.5,22.4,21.8,20.5,19.2,18.4,17.6,16.2,14.7,14.0],[-4.0,22.9,21.7,21.0,20.3,19.1,17.8,16.9,16.0,14.7,13.5],[-3.5,22.6,21.4,20.6,19.9,18.7,17.4,16.5,15.6,14.3,12.6],[-3.0,22.2,21.0,20.2,19.5,18.3,17.0,16.1,15.3,13.9,12.8],[-2.5,22.4,21.5,20.8,19.6,18.9,18.0,16.8,15.5,14.6,13.7,12.3],[-2.0,22.2,21.1,20.4,19.2,18.5,17.7,16.4,15.0,14.2,13.3,12.0],[-1.5,22.0,21.2,20.0,18.8,18.1,17.3,16.0,14.7,13.8,13.0,11.6],[-1.0,21.6,20.8,19.6,18.4,17.7,16.9,15.6,14.4,13.4,12.6,11.2],[-0.5,22.0,20.9,20.2,19.0,18.3,17.5,16.3,15.1,14.1,13.2,11.9,10.8],[0.0,22.1,21.0,19.8,18.6,17.9,17.1,15.9,14.6,13.7,12.8,11.5,10.4],[0.5,21.3,20.6,19.5,18.3,17.6,16.8,15.6,14.3,13.4,12.5,11.2,10.1],[1.0,20.8,20.2,19.1,17.9,17.2,16.4,15.2,13.9,13.0,12.1,10.8,9.4],[1.5,20.4,19.4,18.7,17.6,16.8,16.0,14.8,13.6,12.7,11.8,10.5,9.2],[2.0,19.9,18.9,18.2,17.1,16.4,15.6,14.4,13.2,12.3,11.4,10.1,8.9],[2.5,18.8,18.0,17.0,16.3,15.1,14.3,13.1,12.2,10.9,10.0,8.6],[3.0,18.4,17.6,16.6,15.9,14.7,13.9,12.7,11.8,10.5,9.6,8.2],[3.5,17.6,17.2,16.2,15.5,14.3,13.5,12.3,11.4,10.1,9.2,7.8],[4.0,17.6,16.5,15.8,15.0,13.9,13.1,11.9,11.0,9.7,8.8,7.4,6.5],[4.5,16.9,16.1,15.4,14.6,13.5,12.7,11.5,10.6,9.3,8.4,7.0],[5.0,16.6,15.7,14.9,14.1,13.1,12.2,11.1,10.2,8.9,8.0,6.6,5.6],[5.5,16.3,15.3,14.5,13.7,12.7,11.8,10.7,9.8,8.5,7.6,6.2],[6.0,15.5,14.9,14.1,13.3,12.3,11.4,10.3,9.4,8.1,7.2,5.8,4.8],[6.5,15.3,14.5,13.7,12.9,11.9,11.0,9.9,9.0,7.7,6.8,5.4],[7.0,14.8,14.0,13.3,12.4,11.5,10.5,9.5,8.6,7.3,6.4,5.0,3.9],[7.5,15.2,13.6,12.9,12.0,11.1,10.1,9.1,8.2,6.9,6.0,4.6,3.5],[8.0,14.1,13.2,12.5,11.6,10.7,9.7,8.7,7.8,6.5,5.6,4.2,3.1],[8.5,13.9,12.8,12.1,11.2,10.3,9.3,8.3,7.4,6.1,5.2,3.8,2.7],[9.0,14.2,12.3,11.7,10.7,9.9,8.9,7.9,7.0,5.7,4.8,3.4,2.3,0.8],[9.5,13.2,11.9,11.2,10.3,9.5,8.5,7.5,6.6,5.3,4.4,3.0,1.9,0.6],[10.0,12.3,11.5,10.8,9.9,9.1,8.1,7.1,6.2,4.9,4.0,2.6,1.5,0.4],[10.5,11.1,10.4,9.5,8.7,7.7,6.7,5.8,4.5,3.6,2.2,1.1],[11.0,11.5,10.0,9.1,8.3,7.3,6.3,5.4,4.1,3.2,1.9,0.7],[11.5,9.5,8.7,7.9,6.9,5.9,5.0,3.7,2.8,1.5,0.4],[12.0,9.9,9.0,8.3,7.4,6.5,5.5,4.6,3.3,2.4,1.2],[12.5,8.6,7.8,6.9,6.1,5.1,4.2,2.9,2.0,0.8],[13.0,7.2,6.5,5.5,4.7,3.7,2.8,1.5,0.7],[13.5,6.8,6.0,5.0,4.2,3.3,2.4,1.2],[14.0,5.3,4.6,3.6,2.8,1.8,0.9],[14.5,4.9,4.1,3.1,2.4,1.4,0.5],[15.0,3.5,2.7,1.8,1.0],[15.5,2.7,2.1,1.2,0.4],[16.0,2.2,1.5,0.7],[16.5,1.0]];
const u04bExtra=[[-9.7,39.7],[-9.3,39.7],[-2.7,29.7],[-9.5,26.9],[-7.2,26.9],[-6.3,26.2],[-2.1,26.1],[1.6,26.2],[2.3,26.2],[3.0,24.1],[2.5,21.2],[3.4,21.2],[-10.9,19.9],[-10.4,19.2],[-9.0,17.0],[-6.4,12.1],[-0.1,5.7],[2.0,6.3],[15.3,6.3],[-6.9,2.1],[-9.1,24.9],[-9.2,24.1],[-8.5,24.8]];
const u04bFloor=[0.1,-13.0,-12.6,-12.2,-11.4,-10.8,-9.8,-9.3,-8.8,-8.3,-7.8,-7.3,-6.8,-6.3,-5.8,-5.3,-4.8,-4.3,-3.8,-3.3,-2.8,-2.3,-1.8,-1.3,-0.8,-0.3,0.2,0.7,1.2,1.7,2.2,2.7,3.2,3.7,4.2,4.7,5.2,5.7,6.2,6.7,7.2,7.7,8.2,8.7,9.2,9.7,10.2,10.7,11.2,11.7,12.2,12.7,13.2,13.7,14.2,14.7,15.2,15.7,16.2,16.7,17.2,17.7,18.2,18.7,19.2,19.7,20.2,20.7,21.2,22.2,22.8,23.3];

// ---------------- BUILD ----------------
const fromCols=c=>c.flatMap(([x,...ys])=>ys.map(y=>[x,y]));
const fromRows=r=>r.flatMap(([y,...xs])=>xs.map(x=>[x,y]));
const pointSets=[
 [...fromCols(u03Cols),...u03Extra,...fromRows([u03Floor])],
 [...fromCols(u05Cols),...u05Extra,...fromRows([u05Floor])],
 fromRows(u02bRows),
 [...fromCols(u0102Cols),...u0102Extra,...fromRows([u0102Floor])],
 [...fromCols(u04Cols),...u04Extra,...fromRows([u04Floor])],
 [...fromCols(u04bCols),...u04bExtra,...fromRows([u04bFloor])]];

const ORANGE='#e0561b',PURPLE='#4f3290',GREEN='#86c226';
const layout=[
 {ax:[68.3,506.7,80,464.3],title:[258,28],sub:[287,74],ylab:23,fs:1.08,leg:[199,89,298,114,205,245,259,[104,132,159,186]],fill:ORANGE,stroke:'#3a2418',r:3.4},
 {ax:[611,1043,80,464],title:[798,28],sub:[827,74],ylab:567,fs:1.08,leg:[740,89,294,114,747,785,799,[104,132,159,186]],fill:ORANGE,stroke:'#3a2418',r:3.5},
 {ax:[87.3,505.7,689,1060],title:[269,638],sub:[296,683],ylab:44,fs:1.03,leg:[212,698,285,110,218,256,269,[712,738,765,791]],fill:'#c9531f',stroke:'#3a2418',r:3.0},
 {ax:[607,1019,689,1061],title:[785,638],sub:[813,683],ylab:563,fs:1.03,leg:[730,698,280,110,736,772,786,[712,738,765,791]],fill:'#d4561d',stroke:'#3a2418',r:3.5},
 {ax:[73.3,505.7,1273,1646],title:[267,1223],sub:[289,1268],ylab:30,fs:1.045,leg:[323,1283,173,84,330,367,381,[1297,1323,1350]],fill:PURPLE,stroke:'#22173d',r:3.5},
 {ax:[606,1024,1269,1646],title:[787,1217],sub:[815,1262],ylab:561,fs:1.045,leg:[731,1278,283,112,737,774,788,[1293,1319,1346,1373]],fill:PURPLE,stroke:'#22173d',r:3.9}];

const svg=d3.select('#c');
svg.append('rect').attr('width',1075).attr('height',1699).attr('fill','#fff');

layout.forEach((L,i)=>{
 const [x0,x1,yt,yb]=L.ax;
 const x=d3.scaleLinear().domain([-20,30]).range([x0,x1]);
 const y=d3.scaleLinear().domain([0,60]).range([yb,yt]);
 const g=svg.append('g');
 const cid='clip'+i;
 g.append('clipPath').attr('id',cid).append('rect').attr('x',x0).attr('y',yt).attr('width',x1-x0).attr('height',yb-yt+2);

 // points
 g.append('g').selectAll('circle').data(pointSets[i]).join('circle')
  .attr('cx',d=>x(d[0])).attr('cy',d=>y(d[1])).attr('r',L.r)
  .attr('fill',L.fill).attr('stroke',L.stroke).attr('stroke-width',0.7);

 // lines
 const lg=g.append('g').attr('clip-path',`url(#${cid})`);
 const lineGen=d3.line().x(d=>x(d[0])).y(d=>y(d[1]));
 if(docHLC[i]!==null){
  const z=docZeroT[i];
  lg.append('path').attr('d',lineGen([[-20,docHLC[i]*(z+20)],[z,0]])).attr('stroke','#000').attr('stroke-width',2.6).attr('fill','none');
 }
 const fz=fitZeroT[i];
 lg.append('path').attr('d',lineGen([[-20,fitSlope[i]*(-20-fz)],[fz,0]])).attr('stroke',GREEN).attr('stroke-width',2.6).attr('fill','none');

 // axes
 const tf=18*L.fs;
 const xa=g.append('g').attr('transform',`translate(0,${yb})`).call(d3.axisBottom(x).tickValues(xTicks).tickSize(7).tickSizeOuter(0).tickPadding(5));
 const ya=g.append('g').attr('transform',`translate(${x0},0)`).call(d3.axisLeft(y).tickValues(yTicks).tickSize(7).tickSizeOuter(0).tickPadding(6));
 [xa,ya].forEach(a=>{a.select('.domain').attr('stroke','#1a1a1a').attr('stroke-width',1.6);
  a.selectAll('.tick line').attr('stroke','#1a1a1a').attr('stroke-width',1.5);
  a.selectAll('.tick text').attr('font-size',tf).attr('font-family','"DejaVu Sans",sans-serif').attr('fill','#1a1a1a');});

 // labels
 const lf=19*L.fs;
 g.append('text').attr('x',(x0+x1)/2).attr('y',yb+47).attr('text-anchor','middle').attr('font-size',lf).text(xLabel);
 g.append('text').attr('transform',`translate(${L.ylab},${(yt+yb)/2}) rotate(-90)`).attr('text-anchor','middle').attr('font-size',lf).text(yLabel);
 g.append('text').attr('x',L.title[0]).attr('y',L.title[1]).attr('text-anchor','middle').attr('font-size',22.9*L.fs).text(titles[i]);
 g.append('text').attr('x',L.sub[0]).attr('y',L.sub[1]).attr('text-anchor','middle').attr('font-size',lf).text(subtitles[i]);

 // legend
 const [lx,ly,lw,lh,h0,h1,tx,rows]=L.leg;
 g.append('rect').attr('x',lx).attr('y',ly).attr('width',lw).attr('height',lh).attr('rx',4)
  .attr('fill','#fff').attr('fill-opacity',0.8).attr('stroke','#d6d6d6').attr('stroke-width',1);
 legendLabels[i].forEach((t,k)=>{
  const col=t.startsWith('documentation')?'#000':GREEN;
  g.append('line').attr('x1',h0).attr('x2',h1).attr('y1',rows[k]).attr('y2',rows[k]).attr('stroke',col).attr('stroke-width',2.6);
  g.append('text').attr('x',tx).attr('y',rows[k]).attr('dy','0.36em').attr('font-size',18).text(t);
 });
});
</script></body></html>
